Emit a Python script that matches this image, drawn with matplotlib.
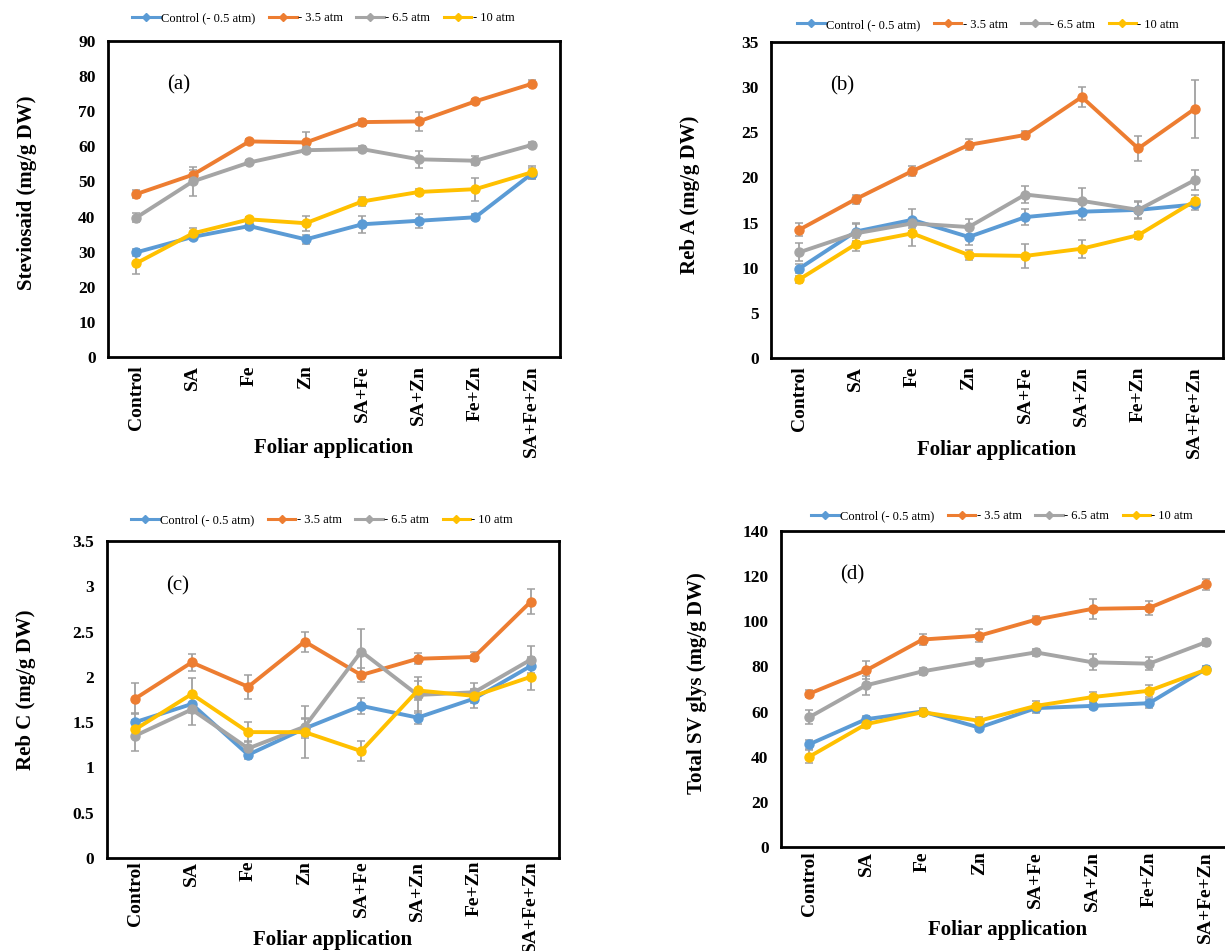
import numpy as np
import matplotlib.pyplot as plt
from matplotlib.lines import Line2D

plt.rcParams['font.family'] = ['Liberation Serif', 'DejaVu Serif']

# treatments on the x axis
treatments = ['Control', 'SA', 'Fe', 'Zn', 'SA+Fe', 'SA+Zn', 'Fe+Zn', 'SA+Fe+Zn']
series_names = ['Control (- 0.5 atm)', '- 3.5 atm', '- 6.5 atm', '- 10 atm']
colors = ['#5B9BD5', '#ED7D31', '#A5A5A5', '#FFC000']

# (a) Steviosaid
stev_ctrl = [29.8, 34.2, 37.3, 33.5, 37.8, 38.8, 39.8, 52.2]
stev_35 = [46.4, 51.9, 61.4, 61.1, 66.9, 67.1, 72.8, 77.8]
stev_65 = [39.7, 50.0, 55.4, 58.9, 59.2, 56.3, 55.9, 60.4]
stev_10 = [26.7, 35.2, 39.2, 38.1, 44.3, 47.0, 47.8, 52.6]
stev_ctrl_err = [1.0, 1.0, 0.8, 1.2, 2.4, 2.0, 0.8, 1.5]
stev_35_err = [1.2, 1.5, 0.8, 2.9, 1.0, 2.6, 0.8, 1.0]
stev_65_err = [1.3, 4.1, 0.8, 0.8, 0.8, 2.5, 1.3, 0.8]
stev_10_err = [3.1, 1.5, 0.8, 2.1, 1.3, 0.8, 3.3, 1.8]

# (b) Reb A
reba_ctrl = [9.9, 14.0, 15.3, 13.4, 15.6, 16.2, 16.4, 17.0]
reba_35 = [14.2, 17.6, 20.7, 23.6, 24.7, 28.9, 23.2, 27.6]
reba_65 = [11.7, 13.8, 14.9, 14.5, 18.1, 17.4, 16.4, 19.7]
reba_10 = [8.7, 12.6, 13.8, 11.4, 11.3, 12.1, 13.6, 17.4]
reba_ctrl_err = [0.5, 1.0, 1.2, 0.9, 0.9, 0.9, 0.9, 0.6]
reba_35_err = [0.7, 0.5, 0.6, 0.6, 0.4, 1.1, 1.4, 3.2]
reba_65_err = [1.0, 1.0, 0.5, 0.9, 0.9, 1.4, 1.0, 1.1]
reba_10_err = [0.4, 0.7, 1.4, 0.6, 1.3, 1.0, 0.4, 0.6]

# (c) Reb C
rebc_ctrl = [1.50, 1.70, 1.14, 1.43, 1.68, 1.55, 1.76, 2.12]
rebc_35 = [1.76, 2.16, 1.89, 2.39, 2.02, 2.20, 2.22, 2.83]
rebc_65 = [1.35, 1.64, 1.21, 1.45, 2.28, 1.80, 1.83, 2.19]
rebc_10 = [1.42, 1.81, 1.39, 1.39, 1.18, 1.85, 1.79, 2.00]
rebc_ctrl_err = [0.10, 0.10, 0.05, 0.10, 0.09, 0.07, 0.10, 0.10]
rebc_35_err = [0.17, 0.09, 0.13, 0.11, 0.08, 0.06, 0.05, 0.14]
rebc_65_err = [0.17, 0.17, 0.08, 0.10, 0.25, 0.20, 0.10, 0.15]
rebc_10_err = [0.10, 0.18, 0.11, 0.29, 0.11, 0.10, 0.08, 0.15]

# (d) Total SV glycosides
tsv_ctrl = [45.5, 56.6, 60.0, 52.9, 61.5, 62.5, 63.7, 78.8]
tsv_35 = [67.9, 78.2, 91.9, 93.6, 100.7, 105.5, 105.9, 116.3]
tsv_65 = [57.5, 71.6, 77.8, 82.1, 86.2, 81.8, 81.2, 90.7]
tsv_10 = [40.0, 54.4, 59.7, 55.9, 62.5, 66.4, 69.2, 78.5]
tsv_ctrl_err = [2.0, 1.5, 1.5, 1.5, 2.0, 1.5, 2.0, 1.5]
tsv_35_err = [1.5, 4.0, 2.5, 3.0, 1.5, 4.3, 3.0, 2.5]
tsv_65_err = [3.0, 4.3, 1.5, 1.5, 1.5, 3.5, 2.8, 1.5]
tsv_10_err = [3.0, 1.5, 1.5, 1.5, 2.2, 2.3, 2.7, 1.5]

panels = [
    dict(pos=[0.0882, 0.6246, 0.369, 0.3323], ylim=90, step=10, tag='(a)',
         ylabel='Steviosaid (mg/g DW)', leg=(0.476, 1.073),
         ylab=(-0.18, 0.52), xlab=-0.288, xpad=6,
         vals=[stev_ctrl, stev_35, stev_65, stev_10],
         errs=[stev_ctrl_err, stev_35_err, stev_65_err, stev_10_err]),
    dict(pos=[0.6294, 0.6236, 0.369, 0.3323], ylim=35, step=5, tag='(b)',
         ylabel='Reb A (mg/g DW)', leg=(0.48, 1.054),
         ylab=(-0.179, 0.516), xlab=-0.291, xpad=6,
         vals=[reba_ctrl, reba_35, reba_65, reba_10],
         errs=[reba_ctrl_err, reba_35_err, reba_65_err, reba_10_err]),
    dict(pos=[0.0873, 0.0978, 0.369, 0.3333], ylim=3.5, step=0.5, tag='(c)',
         ylabel='Reb C (mg/g DW)', leg=(0.476, 1.066),
         ylab=(-0.18, 0.53), xlab=-0.259, xpad=2,
         vals=[rebc_ctrl, rebc_35, rebc_65, rebc_10],
         errs=[rebc_ctrl_err, rebc_35_err, rebc_65_err, rebc_10_err]),
    dict(pos=[0.6376, 0.1094, 0.3698, 0.3323], ylim=140, step=20, tag='(d)',
         ylabel='Total SV glys (mg/g DW)', leg=(0.488, 1.047),
         ylab=(-0.185, 0.52), xlab=-0.263, xpad=3,
         vals=[tsv_ctrl, tsv_35, tsv_65, tsv_10],
         errs=[tsv_ctrl_err, tsv_35_err, tsv_65_err, tsv_10_err]),
]

fig = plt.figure(figsize=(12.25, 9.51), dpi=100)
x = np.arange(len(treatments))

for p in panels:
    ax = fig.add_axes(p['pos'])
    for vals, errs, c in zip(p['vals'], p['errs'], colors):
        line, caps, bars = ax.errorbar(x, vals, yerr=errs, color=c, lw=2.8,
                                       marker='o', ms=6.5, ecolor='#a0a0a0',
                                       elinewidth=1.3, capsize=3, capthick=1.1)
        for cap in caps:
            cap.set_color('#333333')
    ax.set_xlim(-0.5, len(treatments) - 0.5)
    ax.set_ylim(0, p['ylim'])
    ticks = np.arange(0, p['ylim'] + p['step'] / 2, p['step'])
    ax.set_yticks(ticks)
    ax.set_yticklabels(['%g' % t for t in ticks], fontsize=12.5, fontweight='bold')
    ax.set_xticks(x)
    ax.set_xticklabels(treatments, rotation=90, fontsize=14, fontweight='bold')
    ax.tick_params(axis='y', length=0, pad=9)
    ax.tick_params(axis='x', length=0, pad=p['xpad'])
    for s in ax.spines.values():
        s.set_linewidth(2)
    ax.set_xlabel('Foliar application', fontsize=15, fontweight='bold', va='center')
    ax.xaxis.set_label_coords(0.5, p['xlab'])
    ax.set_ylabel(p['ylabel'], fontsize=15, fontweight='bold', va='center')
    ax.yaxis.set_label_coords(*p['ylab'])
    ax.text(0.157, 0.86, p['tag'], transform=ax.transAxes, fontsize=15,
            ha='center', va='center')
    handles = [Line2D([0], [0], color=c, lw=2.2, marker='D', ms=4) for c in colors]
    ax.legend(handles, series_names, loc='center', bbox_to_anchor=p['leg'],
              ncol=4, frameon=False, fontsize=9, handlelength=2.2,
              handletextpad=0.1, columnspacing=1.1)

fig.savefig('out.png', dpi=100)
